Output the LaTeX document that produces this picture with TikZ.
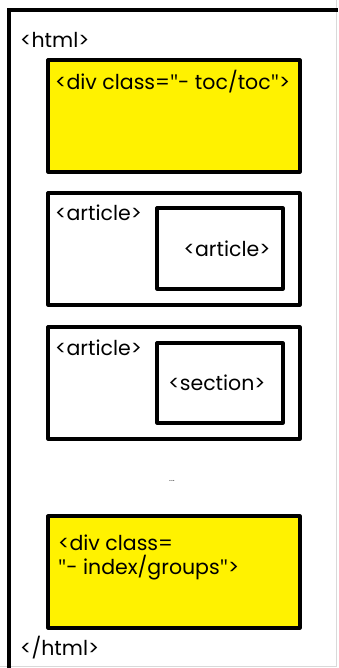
\documentclass[tikz,border=0pt]{standalone}
\usepackage{fontspec}
\setmainfont{Poppins}
\newfontfamily\quotefont{Open Sans}
\newcommand{\qq}{{\quotefont\char34}}
\begin{document}
\begin{tikzpicture}[x=1pt,y=-1pt,
  box/.style={draw=black,line width=3.2pt,line join=round},
  ybox/.style={box,fill=yellow},
  lbl/.style={inner sep=0pt,anchor=west,font=\fontsize{20.5}{24}\selectfont,text=black}]
\useasboundingbox (0,0) rectangle (338,668);
\fill[white] (0,0) rectangle (338,668);
% outer frame (cropped)
\draw[gray!30,line width=1pt] (336,0) -- (336,666) -- (0,666);
\draw[black,line width=3.2pt] (9,668) -- (9,10) -- (338,10);
\node[lbl] (html) at (20,40) {<html>};
% toc div
\draw[ybox] (48,60) rectangle (300,172);
\node[lbl] (toc) at (55,82) {<div class=\qq- toc/toc\qq>};
% article 1
\draw[box] (48,193) rectangle (300,305);
\node[lbl] (a1) at (55,213) {<article>};
\draw[box] (157,208) rectangle (283,289);
\node[lbl,anchor=center] (a1i) at (227,249) {<article>};
% article 2
\draw[box] (48,327) rectangle (300,439);
\node[lbl] (a2) at (55,348) {<article>};
\draw[box] (157,343) rectangle (283,423);
\node[lbl,anchor=center] (s2) at (217,383) {<section>};
% ellipsis
\node[inner sep=0pt,font=\fontsize{9}{10}\selectfont,text=black!70] (dots) at (172,481) {...};
% index div
\draw[ybox] (48,516) rectangle (300,628);
\node[lbl] (idx1) at (58,543) {<div class=};
\node[lbl] (idx2) at (58,568) {\qq- index/groups\qq>};
\node[lbl] (endhtml) at (20,648) {</html>};
\end{tikzpicture}
\end{document}
